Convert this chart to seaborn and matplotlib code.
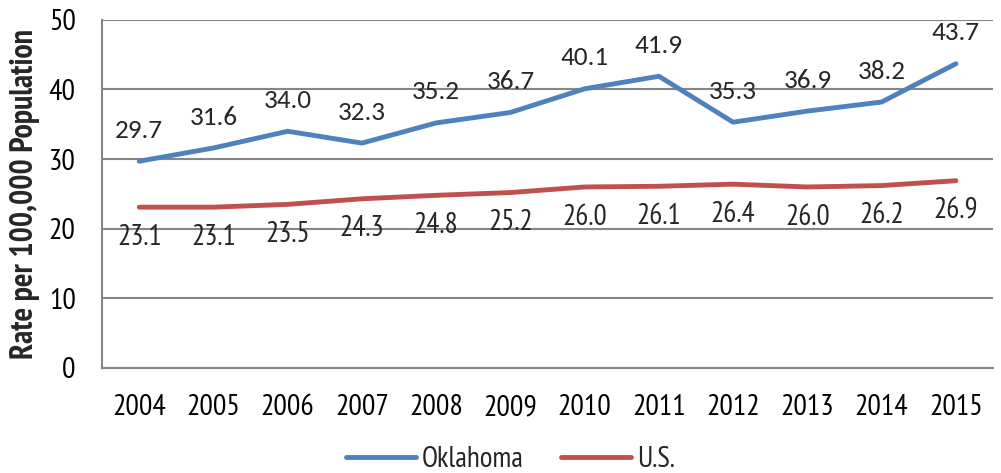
import matplotlib
matplotlib.use("Agg")
import matplotlib.pyplot as plt
import seaborn as sns
import pandas as pd
from matplotlib.ticker import FixedLocator

years = ["2004", "2005", "2006", "2007", "2008", "2009", "2010", "2011", "2012", "2013", "2014", "2015"]
oklahoma = [29.7, 31.6, 34.0, 32.3, 35.2, 36.7, 40.1, 41.9, 35.3, 36.9, 38.2, 43.7]
us = [23.1, 23.1, 23.5, 24.3, 24.8, 25.2, 26.0, 26.1, 26.4, 26.0, 26.2, 26.9]

sns.set_style("white")
narrow = ["PT Sans Narrow", "DejaVu Sans"]
plt.rcParams["font.family"] = narrow

df = pd.DataFrame({
    "pos": list(range(len(years))) * 2,
    "rate": oklahoma + us,
    "series": ["Oklahoma"] * len(years) + ["U.S."] * len(years),
})

fig = plt.figure(figsize=(10.01, 4.73), dpi=100)
ax = fig.add_axes([0.102, 0.222, 0.890, 0.736])

sns.lineplot(data=df, x="pos", y="rate", hue="series",
             palette={"Oklahoma": "#4F81BD", "U.S.": "#C0504D"},
             linewidth=3.5, ax=ax, legend=False)

grid_c = "#868686"
ax.set_ylim(0, 50)
ax.set_xlim(-0.5, len(years) - 0.5)
ax.set_yticks(range(0, 51, 10))
ax.yaxis.grid(True, color=grid_c, linewidth=1.5)
ax.set_axisbelow(True)
ax.set_xticks(range(len(years)))
ax.set_xticklabels(years)
ax.xaxis.set_minor_locator(FixedLocator([i - 0.5 for i in range(len(years) + 1)]))
ax.tick_params(axis="x", which="major", length=0, pad=19, labelsize=21.5, colors="black")
ax.tick_params(axis="x", which="minor", length=7, width=1.5, color=grid_c, direction="out")
ax.tick_params(axis="y", length=7, width=1.5, color=grid_c, labelsize=21.5, pad=12)
ax.tick_params(axis="y", labelcolor="black")
for side in ["top", "right"]:
    ax.spines[side].set_visible(False)
for side in ["left", "bottom"]:
    ax.spines[side].set_color(grid_c)
    ax.spines[side].set_linewidth(1.5)

ax.set_xlabel("")
ax.set_ylabel("Rate per 100,000 Population", fontsize=23, fontweight="bold", labelpad=6)

for i, v in enumerate(oklahoma):
    ax.annotate(f"{v:.1f}", (i, v), xytext=(0, 14), textcoords="offset points",
                ha="center", va="bottom", fontsize=19.5, family=["Carlito", "DejaVu Sans"])
for i, v in enumerate(us):
    ax.annotate(f"{v:.1f}", (i, v), xytext=(0, -12), textcoords="offset points",
                ha="center", va="top", fontsize=21)

handles = [plt.Line2D([], [], color="#4F81BD", linewidth=3.5, solid_capstyle="round"),
           plt.Line2D([], [], color="#C0504D", linewidth=3.5, solid_capstyle="round")]
fig.legend(handles, ["Oklahoma", "U.S."], loc="lower center", bbox_to_anchor=(0.51, -0.055),
           ncol=2, frameon=False, fontsize=21, handlelength=2.4, handletextpad=0.2,
           columnspacing=1.3)

fig.savefig("out.png", dpi=100)
